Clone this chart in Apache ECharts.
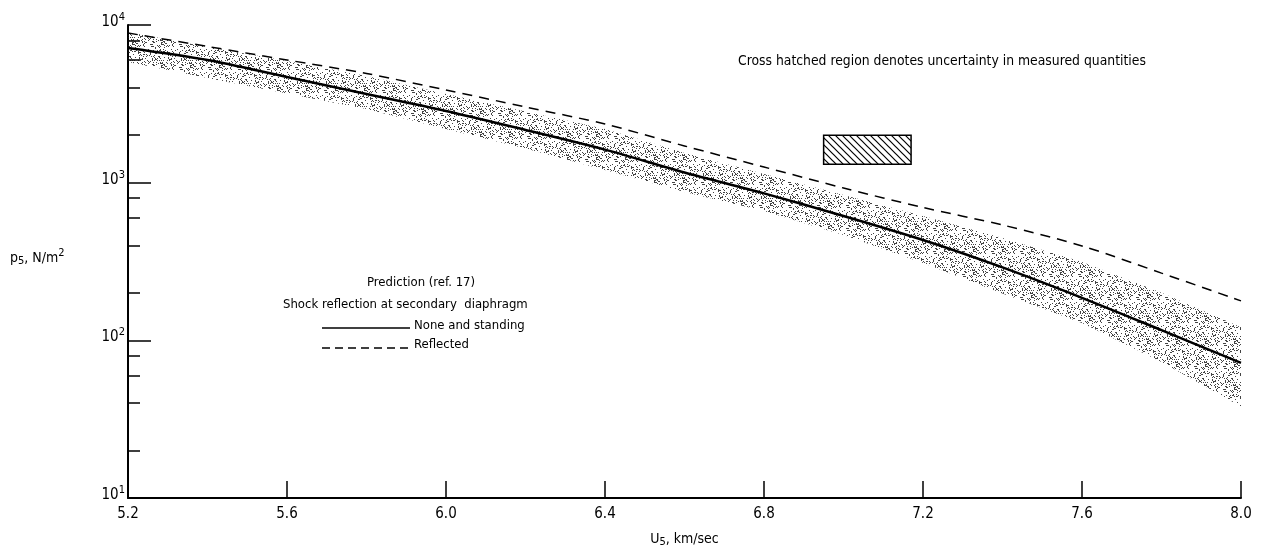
<!DOCTYPE html>
<html><head><meta charset="utf-8">
<script src="https://cdn.jsdelivr.net/npm/echarts@6/dist/echarts.min.js"></script>
<style>html,body{margin:0;padding:0;background:#fff}#c{width:1261px;height:554px}</style>
</head><body><div id="c"></div>
<script>
// ---- data ----
const U = [5.2, 5.4, 5.6, 5.8, 6.0, 6.2, 6.4, 6.6, 6.8, 7.0, 7.2, 7.4, 7.6, 7.8, 8.0];
const pNoneStanding = [7150, 6000, 4680, 3650, 2850, 2160, 1620, 1160, 855, 615, 433, 290, 186, 116, 72];
const pReflected = [8900, 7310, 6000, 4925, 3870, 3020, 2355, 1710, 1257, 925, 696, 539, 397, 267, 178];
const bandUpper = [9030, 7250, 5910, 4750, 3650, 2830, 2190, 1543, 1135, 835, 615, 446, 314, 200, 121];
const bandLower = [5830, 4610, 3680, 2930, 2190, 1647, 1203, 873, 661, 466, 309, 198, 129, 73, 38];
const hatchBox = [[6.95, 7.17, 1310, 2000]];
const yMinorTicks = [20, 40, 60, 80, 200, 400, 600, 800, 2000, 4000, 6000, 8000];

const FONT = '"DejaVu Sans Condensed","Liberation Sans Narrow","DejaVu Sans",sans-serif';

// textures
function makeStipple() {
  const c = document.createElement('canvas'); c.width = 29; c.height = 23;
  const g = c.getContext('2d');
  g.fillStyle = 'rgba(20,20,20,0.8)';
  let s = 98765;
  for (let y = 0; y < 23; y++) for (let x = 0; x < 29; x++) {
    s = (s * 1103515245 + 12345) & 0x7fffffff;
    if ((s >> 8) % 100 < 24) g.fillRect(x, y, 1, 1);
  }
  return c;
}
function makeHatch() {
  const n = 7;
  const c = document.createElement('canvas'); c.width = n; c.height = n;
  const g = c.getContext('2d');
  g.strokeStyle = '#000'; g.lineWidth = 1.2;
  g.beginPath();
  g.moveTo(-1, -1); g.lineTo(n + 1, n + 1);
  g.moveTo(-1, n - 1); g.lineTo(1, n + 1);
  g.moveTo(n - 1, -1); g.lineTo(n + 1, 1);
  g.stroke();
  return c;
}
const stipple = { image: makeStipple(), repeat: 'repeat' };
const hatch = { image: makeHatch(), repeat: 'repeat' };

const chart = echarts.init(document.getElementById('c'), null, { renderer: 'canvas' });
const txt = { fontFamily: FONT, color: '#000' };

const option = {
  animation: false,
  backgroundColor: '#fff',
  grid: { left: 128, right: 20, top: 25, bottom: 56, containLabel: false },
  xAxis: {
    type: 'value', min: 5.2, max: 8.0, interval: 0.4,
    axisLine: { lineStyle: { color: '#000', width: 2 } },
    axisTick: { inside: true, length: 17, lineStyle: { color: '#000', width: 1.5 } },
    axisLabel: { ...txt, fontSize: 15, margin: 9, formatter: v => v.toFixed(1), showMinLabel: true, showMaxLabel: true },
    splitLine: { show: false },
    name: '{a|U}{s|5}{a|, km/sec}', nameLocation: 'middle', nameGap: 32,
    nameTextStyle: { rich: { a: { ...txt, fontSize: 14 }, s: { ...txt, fontSize: 11, padding: [7, 0, 0, 0] } } }
  },
  yAxis: [{
    type: 'log', logBase: 10, min: 10, max: 10000,
    axisLine: { show: true, lineStyle: { color: '#000', width: 2 } },
    axisTick: { show: true, inside: true, length: 23, lineStyle: { color: '#000', width: 1.5 } },
    axisLabel: {
      margin: 3,
      formatter: v => '{b|10}{s|' + Math.round(Math.log10(v)) + '}',
      rich: { b: { ...txt, fontSize: 15, padding: [0, 0, 6, 0] }, s: { ...txt, fontSize: 11, padding: [0, 0, 16, 0] } }
    },
    splitLine: { show: false }
  }, {
    type: 'log', logBase: 10, min: 10, max: 10000, position: 'left',
    axisLine: { show: false },
    axisTick: { show: true, inside: true, length: 12, customValues: yMinorTicks, lineStyle: { color: '#000', width: 1.5 } },
    axisLabel: { show: false },
    splitLine: { show: false }
  }],
  series: [{
    type: 'custom', coordinateSystem: 'cartesian2d', silent: true, z: 1,
    data: [[U[0], bandUpper[0]]],
    renderItem: (params, api) => {
      const pts = [];
      for (let i = 0; i < U.length; i++) pts.push(api.coord([U[i], bandUpper[i]]));
      for (let i = U.length - 1; i >= 0; i--) pts.push(api.coord([U[i], bandLower[i]]));
      return { type: 'polygon', shape: { points: pts }, style: { fill: stipple, stroke: null } };
    }
  }, {
    type: 'custom', coordinateSystem: 'cartesian2d', silent: true, z: 3,
    data: hatchBox,
    renderItem: (params, api) => {
      const a = api.coord([api.value(0), api.value(3)]);
      const b = api.coord([api.value(1), api.value(2)]);
      return { type: 'rect', shape: { x: a[0], y: a[1], width: b[0] - a[0], height: b[1] - a[1] },
        style: { fill: hatch, stroke: '#000', lineWidth: 1.5 } };
    }
  }, {
    name: 'None and standing', type: 'line', z: 4, symbol: 'none', smooth: 0.3,
    data: U.map((u, i) => [u, pNoneStanding[i]]),
    lineStyle: { color: '#000', width: 2.5 }
  }, {
    name: 'Reflected', type: 'line', z: 4, symbol: 'none', smooth: 0.3,
    data: U.map((u, i) => [u, pReflected[i]]),
    lineStyle: { color: '#000', width: 1.5, type: [10, 7] }
  }],
  graphic: [
    { type: 'text', left: 10, top: 248, style: { rich: {
        a: { fontFamily: FONT, fontSize: 14, fill: '#000' },
        s: { fontFamily: FONT, fontSize: 11, fill: '#000', padding: [7, 0, 0, 0] },
        p: { fontFamily: FONT, fontSize: 11, fill: '#000', padding: [0, 0, 9, 0] } },
      text: '{a|p}{s|5}{a|, N/m}{p|2}' } },
    { type: 'text', left: 738, top: 54, style: { text: 'Cross hatched region denotes uncertainty in measured quantities', fontFamily: FONT, fontSize: 13.8, fill: '#000' } },
    { type: 'text', left: 367, top: 276, style: { text: 'Prediction (ref. 17)', fontFamily: FONT, fontSize: 13, fill: '#000' } },
    { type: 'text', left: 283, top: 298, style: { text: 'Shock reflection at secondary  diaphragm', fontFamily: FONT, fontSize: 13, fill: '#000' } },
    { type: 'line', shape: { x1: 322, y1: 328, x2: 410, y2: 328 }, style: { stroke: '#000', lineWidth: 1.5 } },
    { type: 'text', left: 414, top: 319, style: { text: 'None and standing', fontFamily: FONT, fontSize: 13, fill: '#000' } },
    { type: 'line', shape: { x1: 322, y1: 348, x2: 410, y2: 348 }, style: { stroke: '#000', lineWidth: 1.5, lineDash: [8, 5] } },
    { type: 'text', left: 414, top: 338, style: { text: 'Reflected', fontFamily: FONT, fontSize: 13, fill: '#000' } }
  ]
};
chart.setOption(option);
</script>
</body></html>
